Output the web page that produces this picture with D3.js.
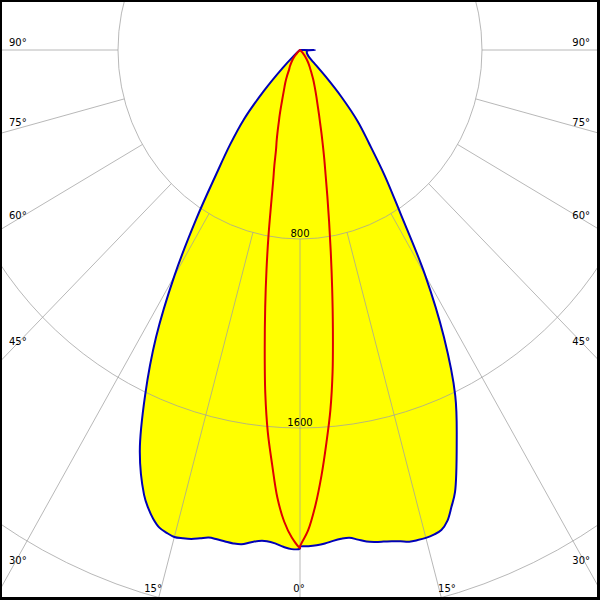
<!DOCTYPE html>
<html>
<head>
<meta charset="utf-8">
<script src="https://cdn.jsdelivr.net/npm/d3@7"></script>
<style>
html,body{margin:0;padding:0;background:#fff;}
svg{display:block;}
text{font-family:"DejaVu Sans",Verdana,sans-serif;font-size:10px;fill:#000;}
</style>
</head>
<body>
<svg id="chart" width="600" height="600"></svg>
<script>
// gamma angles (degrees from nadir)
const angles = [0,1,2,3,4,5,6,7,8,9,10,11,12,13,14,15,16,17,18,19,20,
  22.5,25,27.5,30,32.5,35,37.5,40,42.5,45,47.5,50,55,60,65,70,75,80,85,90];
// C0 plane (right half of blue curve), cd
const c0 = [2102,2101,2098,2092,2083,2077,2076,2088,2101,2108,2113,2118,2126,2136,2138,2138,2134,2125,2096,2045,1992,
  1800,1615,1370,1100,825,650,500,395,270,160,95,65,45,38,34,32,31,30,32,66];
// C180 plane (left half of blue curve), cd
const c180 = [2110,2113,2104,2091,2084,2086,2096,2108,2109,2106,2103,2102,2113,2124,2130,2134,2126,2114,2087,2050,2004,
  1840,1610,1370,1105,850,642,505,385,235,110,40,10,0,0,0,0,0,0,0,0];
// C90 plane (right half of red curve), cd
const c90 = [2102,2034,1930,1804,1666,1531,1370,1186,1015,864,736,630,542,475,415,365,320,286,256,231,211,
  169,137,109,88,73,58,45,33,22,13,6,2,0,0,0,0,0,0,0,0];
// C270 plane (left half of red curve), cd
const c270 = [2108,2064,1997,1898,1758,1624,1460,1272,1099,941,797,666,567,501,436,396,356,319,288,259,233,
  185,153,123,96,83,69,56,42,30,18,9,4,0,0,0,0,0,0,0,0];

const rings = [800,1600,2400];
const spokeAngles = [-90,-75,-60,-45,-30,-15,0,15,30,45,60,75,90];
const spokeLabels = ["90°","75°","60°","45°","30°","15°","0°","15°","30°","45°","60°","75°","90°"];

const W = 600, H = 600, cx = 300, cy = 50;
const rX = d3.scaleLinear().domain([0,800]).range([0,182]);
const rY = d3.scaleLinear().domain([0,800]).range([0,189]);
const rad = d => d*Math.PI/180;
const px = (deg, I, side) => cx + side*rX(I)*Math.sin(rad(deg));
const py = (deg, I) => cy + rY(I)*Math.cos(rad(deg));

const svg = d3.select("#chart");
svg.append("rect").attr("width",W).attr("height",H).attr("fill","#fff");

// point lists
const half = (vals, side) => angles.map((a,i)=>({x:px(a,vals[i],side), y:py(a,vals[i])}));
const bluePts = half(c0,1).concat(half(c180,-1).reverse());
const redPts  = half(c90,1).concat(half(c270,-1).reverse());

const line = d3.line().x(d=>d.x).y(d=>d.y).curve(d3.curveCatmullRomClosed.alpha(0.5));

// yellow fill
svg.append("path").attr("d", line(bluePts)).attr("fill","#ffff00").attr("stroke","none");

// ring labels (under grid)
rings.forEach(r=>{
  const y = cy + rY(r) - 2.5;
  if (y < H-12) {
    svg.append("text").attr("x",cx).attr("y",y).attr("text-anchor","middle").text(String(r));
  }
});

// grid
const grid = svg.append("g").attr("fill","none").attr("stroke","#a0a0a0").attr("stroke-opacity",0.75).attr("stroke-width",1);
rings.forEach(r=>{
  grid.append("ellipse").attr("cx",cx).attr("cy",cy).attr("rx",rX(r)).attr("ry",rY(r));
});
spokeAngles.forEach(a=>{
  const s = a<0?-1:1, g=Math.abs(a);
  grid.append("line")
    .attr("x1",px(g,rings[0],s)).attr("y1",py(g,rings[0]))
    .attr("x2",px(g,6000,s)).attr("y2",py(g,6000));
});

// curves
svg.append("path").attr("d", line(bluePts)).attr("fill","none").attr("stroke","#0000b8").attr("stroke-width",2).attr("stroke-linejoin","round");
svg.append("path").attr("d", line(redPts)).attr("fill","none").attr("stroke","#e00000").attr("stroke-width",2).attr("stroke-linejoin","round");

// spoke labels
spokeAngles.forEach((a,i)=>{
  const s = a<0?-1:(a>0?1:0), g=Math.abs(a);
  const slopeX = Math.sin(rad(g))*rX(1), slopeY = Math.cos(rad(g))*rY(1);
  const t = svg.append("text").text(spokeLabels[i]);
  let yEdge = g===0 ? Infinity : cy + (cx-12)*slopeY/slopeX;
  if (yEdge < H-20) {
    t.attr("y", yEdge-4);
    if (s<0) t.attr("x",9).attr("text-anchor","start");
    else t.attr("x",W-10).attr("text-anchor","end");
  } else {
    const dx = (H-cy)*slopeX/slopeY;
    t.attr("y",592).attr("text-anchor","middle").attr("x", cx + s*(dx+5) - (s===0?1:0));
  }
});

// frame
svg.append("rect").attr("x",0).attr("y",0).attr("width",W).attr("height",2).attr("fill","#000");
svg.append("rect").attr("x",0).attr("y",0).attr("width",2).attr("height",H).attr("fill","#000");
svg.append("rect").attr("x",W-3).attr("y",0).attr("width",3).attr("height",H).attr("fill","#000");
svg.append("rect").attr("x",0).attr("y",H-3).attr("width",W).attr("height",3).attr("fill","#000");
</script>
</body>
</html>
